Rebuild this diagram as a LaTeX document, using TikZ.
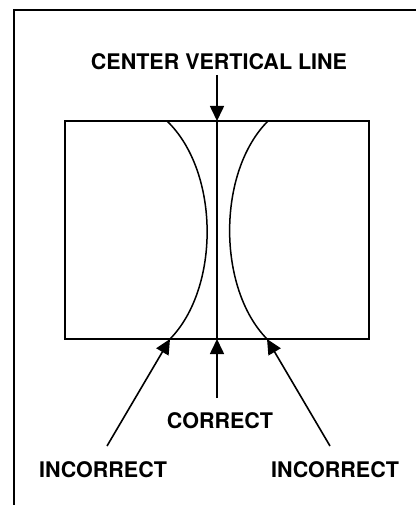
\documentclass[tikz,border=0pt]{standalone}
\usepackage{fontspec}
\setmainfont{TeX Gyre Heros}
\usetikzlibrary{arrows.meta, positioning}

\begin{document}
\begin{tikzpicture}[
    x=1pt, y=-1pt,
    frame/.style={line width=2pt},
    screen/.style={draw, line width=1.4pt, minimum width=304pt, minimum height=218pt,
                   inner sep=0pt},
    curve/.style={line width=1.5pt},
    arr/.style={-{Triangle[length=15pt, width=14pt]}, line width=1.6pt},
    lbl/.style={font=\fontsize{21.5}{24}\selectfont\bfseries, inner sep=0pt}
]
\useasboundingbox (0,0) rectangle (416,505);

% ---- open frame ----
\coordinate (f_bl) at (14,505);
\coordinate (f_tl) at (14,10);
\coordinate (f_tr) at (416,10);
\draw[frame] (f_bl) -- (f_tl) -- (f_tr);

% ---- screen rectangle ----
\node[screen] (scr) at (217,230) {};
\coordinate (c_top) at (217,121);
\coordinate (c_bot) at (217,339);
\coordinate (l_top) at (167,121);
\coordinate (l_bot) at (170,339);
\coordinate (r_top) at (268,121);
\coordinate (r_bot) at (267,339);

% center line and the two bowed lines
\draw[curve] (c_top) -- (c_bot);
\draw[curve] (l_top) .. controls (220,172) and (220,288) .. (l_bot);
\draw[curve] (r_top) .. controls (217,172) and (217,288) .. (r_bot);

% ---- labels ----
\node[lbl] (vlbl) at (219,62)  {CENTER VERTICAL LINE};
\node[lbl] (cor)  at (220,421) {CORRECT};
\node[lbl] (inl)  at (103,470) {INCORRECT};
\node[lbl] (inr)  at (335,470) {INCORRECT};

% ---- arrows ----
\coordinate (a_top) at (217,75);
\coordinate (a_cor) at (217,398);
\coordinate (a_inl) at (107,446);
\coordinate (a_inr) at (330,446);
\draw[arr] (a_top) -- (c_top);
\draw[arr] (a_cor) -- (c_bot);
\draw[arr] (a_inl) -- (l_bot);
\draw[arr] (a_inr) -- (r_bot);

\end{tikzpicture}
\end{document}
